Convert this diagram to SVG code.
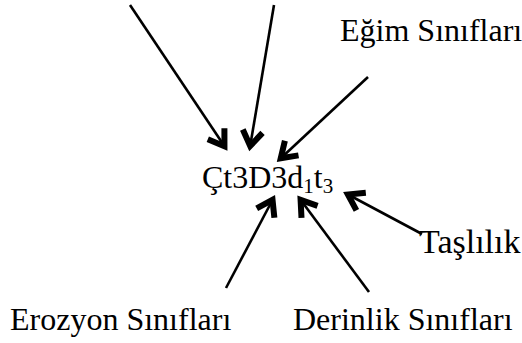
<svg xmlns="http://www.w3.org/2000/svg" width="522" height="343" viewBox="0 0 522 343">
  <style>
    .lbl { font-size: 32px; fill: #000; }
    .sub { font-size: 21px; }
    .big { font-size: 34px; }
    .conn { stroke: #000; stroke-width: 2.6; fill: none; marker-end: url(#head); }
  </style>
  <defs>
    <!-- open V arrowhead, thick arms -->
    <marker id="head" markerUnits="userSpaceOnUse" markerWidth="40" markerHeight="40" viewBox="-20 -20 40 40" refX="0" refY="0" orient="auto">
      <path d="M -16,-10 L -1,0 L -16,10" fill="none" stroke="#000" stroke-width="6" stroke-linejoin="miter"/>
    </marker>
  </defs>
  <rect width="522" height="343" fill="#fff"/>

  <g id="connectors">
    <line class="conn" x1="130" y1="5" x2="225" y2="147"/>
    <line class="conn" x1="274" y1="5" x2="250" y2="147"/>
    <line class="conn" x1="368" y1="77" x2="280" y2="159"/>
    <line class="conn" x1="422" y1="234" x2="347" y2="194"/>
    <line class="conn" x1="226" y1="288" x2="273" y2="199"/>
    <line class="conn" x1="369" y1="292" x2="300" y2="199"/>
  </g>

  <g font-family="Liberation Serif, Times New Roman, serif">
    <g id="egim">
      <text class="lbl" x="340" y="41">Eğim Sınıfları</text>
    </g>
    <g id="center">
      <text class="lbl" x="202" y="188">Çt3D3d<tspan class="sub" dy="5">1</tspan><tspan dy="-5">t</tspan><tspan class="sub" dy="5">3</tspan></text>
    </g>
    <g id="taslilik">
      <text class="lbl big" x="419" y="253">Taşlılık</text>
    </g>
    <g id="erozyon">
      <text class="lbl" x="10" y="330">Erozyon Sınıfları</text>
    </g>
    <g id="derinlik">
      <text class="lbl" x="293" y="330">Derinlik Sınıfları</text>
    </g>
  </g>
</svg>
